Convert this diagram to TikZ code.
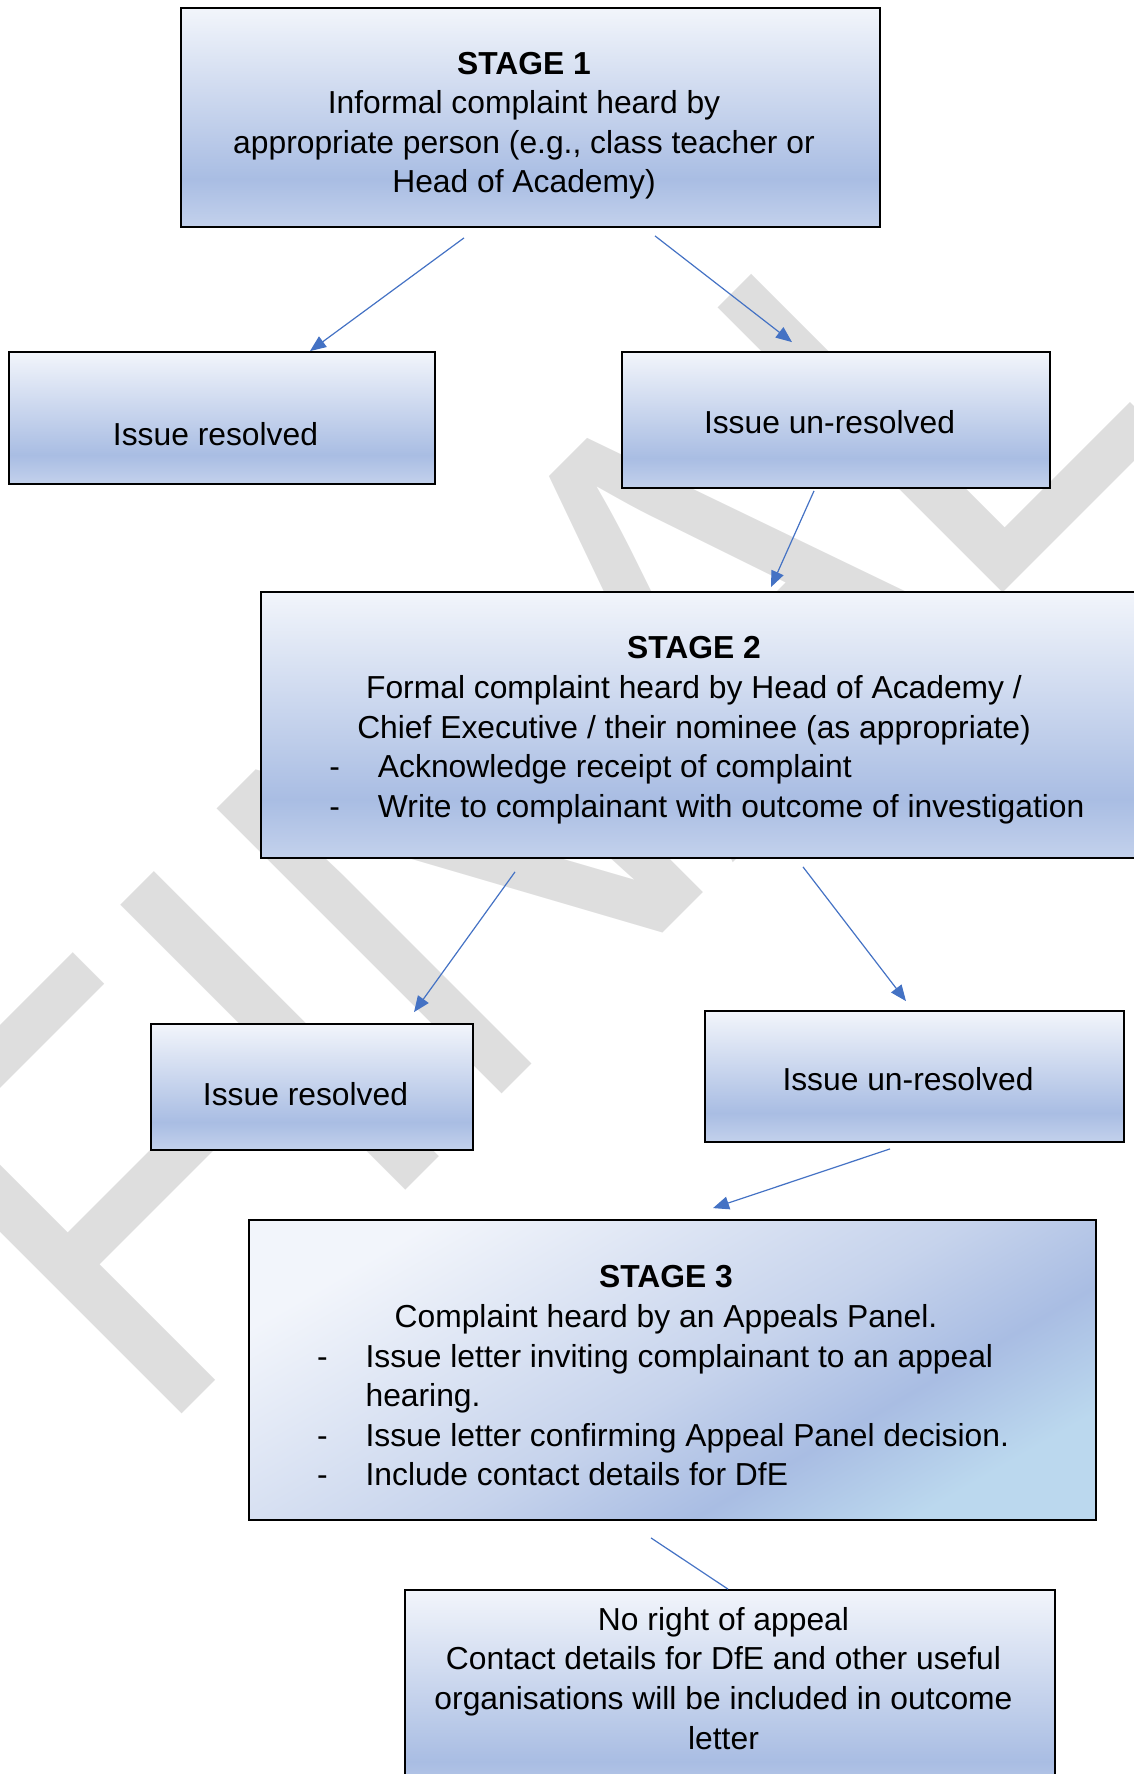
\documentclass[tikz,border=0pt]{standalone}
\usepackage{fontspec}
\setmainfont{Liberation Sans}
\usepackage{tikz}
\usetikzlibrary{arrows.meta,calc}
\definecolor{boxtop}{HTML}{F2F5FB}
\definecolor{boxmid}{HTML}{C6D3EC}
\definecolor{boxdark}{HTML}{A9BDE3}
\definecolor{boxbot}{HTML}{C3D1EC}
\definecolor{boxsky}{HTML}{BBD8EE}
\definecolor{wmark}{HTML}{DEDEDE}
\definecolor{link}{HTML}{4472C4}
\pgfdeclareverticalshading{boxfill}{100bp}{color(0bp)=(boxbot); color(25bp)=(boxbot);
  color(36bp)=(boxdark); color(75bp)=(boxtop); color(100bp)=(boxtop)}
\pgfdeclarehorizontalshading{stagefill}{100bp}{color(0bp)=(boxtop); color(25bp)=(boxtop);
  color(52bp)=(boxmid); color(64bp)=(boxdark); color(75bp)=(boxsky); color(100bp)=(boxsky)}
\newcommand{\boxtext}[2][0pt]{\hspace*{-6.5pt}\raisebox{#1}[\height][\depth]{\begin{tabular}{@{}c@{}}#2\end{tabular}}}
\newcommand{\dashline}[2]{\makebox[#1][l]{\makebox[24.3pt][l]{-}#2}}

\begin{document}
\begin{tikzpicture}[x=0.5pt,y=-0.5pt,
  box/.style={draw=black,line width=0.9pt,shading=boxfill,inner sep=0pt,
              font=\fontsize{15.9pt}{19.8pt}\selectfont},
  arr/.style={-{Triangle[length=8pt,width=6.5pt]},draw=link,line width=0.6pt},
  lnk/.style={draw=link,line width=0.6pt}
]
\useasboundingbox (0,0) rectangle (1134,1774);
\clip (0,0) rectangle (1134,1774);
\node[anchor=base west,rotate=45,xscale=0.87,inner sep=0pt,text=wmark,
      font=\fontsize{293pt}{293pt}\selectfont] (wm) at (152,1444) {FINAL};

\node[box,minimum width=349.5pt,minimum height=109.5pt] (st1) at (530.5,117.5)
  {\boxtext[-4pt]{\textbf{STAGE 1}\\Informal complaint heard by\\appropriate person (e.g., class teacher or\\Head of Academy)}};
\node[box,minimum width=213pt,minimum height=66pt] (res1) at (222,418)
  {\boxtext[-9.8pt]{Issue resolved}};
\node[box,minimum width=214pt,minimum height=68pt] (unres1) at (836,420)
  {\boxtext[-2.8pt]{Issue un-resolved}};
\node[box,minimum width=439.5pt,minimum height=133pt] (st2) at (700.5,725)
  {\boxtext[-2.6pt]{\textbf{STAGE 2}\\Formal complaint heard by Head of Academy /\\
   Chief Executive / their nominee (as appropriate)\\
   \dashline{364.6pt}{Acknowledge receipt of complaint}\\
   \dashline{364.6pt}{Write to complainant with outcome of investigation}}};
\node[box,minimum width=161pt,minimum height=63pt] (res2) at (312,1087)
  {\boxtext[-5.3pt]{Issue resolved}};
\node[box,minimum width=209.5pt,minimum height=65.5pt] (unres2) at (914.5,1076.5)
  {\boxtext[-2.9pt]{Issue un-resolved}};
\node[box,shading=stagefill,shading angle=-60,minimum width=423.5pt,minimum height=150pt] (st3) at (672.5,1370)
  {\boxtext[-4.5pt]{\textbf{STAGE 3}\\Complaint heard by an Appeals Panel.\\
   \dashline{349pt}{Issue letter inviting complainant to an appeal}\\
   \makebox[349pt][l]{\hspace*{24.3pt}hearing.}\\
   \dashline{349pt}{Issue letter confirming Appeal Panel decision.}\\
   \dashline{349pt}{Include contact details for DfE}}};
\node[box,minimum width=325pt,minimum height=110pt] (appeal) at (730,1700)
  {\boxtext[9.1pt]{No right of appeal\\Contact details for DfE and other useful\\organisations will be included in outcome\\letter}};

\draw[arr] ($(st1.south)+(-66.5,10)$) -- ($(res1.north)+(88,0)$);
\draw[arr] ($(st1.south)+(124.5,8)$) -- ($(unres1.north)+(-44,-9)$);
\draw[arr] ($(unres1.south)+(-22,2)$) -- ($(st2.north)+(70.5,-4)$);
\draw[arr] ($(st2.south)+(-185.5,13)$) -- ($(res2.north)+(102,-11)$);
\draw[arr] ($(st2.south)+(102.5,8)$) -- ($(unres2.north)+(-8.5,-9)$);
\draw[arr] ($(unres2.south)+(-24.5,6)$) -- ($(st3.north)+(40.5,-11)$);
\draw[lnk] ($(st3.south)+(-21.5,17)$) -- ($(appeal.north)+(-2,0)$);
\end{tikzpicture}
\end{document}
